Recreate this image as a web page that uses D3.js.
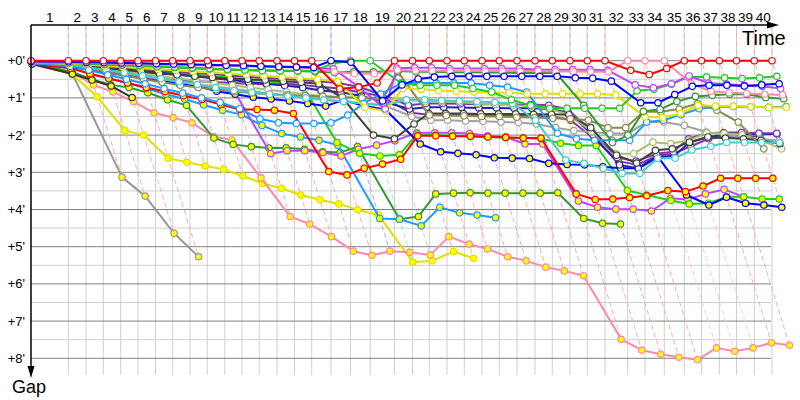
<!DOCTYPE html>
<html><head><meta charset="utf-8">
<script src="https://cdn.jsdelivr.net/npm/d3@7"></script>
<style>body{margin:0;background:#fff}svg{display:block}text{font-family:"Liberation Sans",Arial,sans-serif}</style>
</head><body><svg id="c" width="800" height="400"></svg>
<script>
// leader lap durations (minutes), lap 1..40
const lapDurations = [3.243,1.540,1.504,1.513,1.504,1.522,1.496,1.504,1.504,1.522,1.496,1.495,1.548,1.522,1.496,1.678,1.696,1.713,2.113,1.565,1.461,1.539,1.504,1.539,1.505,1.539,1.565,1.504,1.540,1.504,1.539,1.974,1.504,1.679,1.739,1.495,1.548,1.496,1.548,1.539];
const gapTicks = [0,1,2,3,4,5,6,7,8];
const gapTickLabels = ["+0'","+1'","+2'","+3'","+4'","+5'","+6'","+7'","+8'"];
const N = null;
// gaps (minutes) per lap 0..40
const gRed = [0, 0,0,0,0,0,0,0,0,0,0,0,0,0,0,0, 0.76,0.71,0.6, 0, 0,0,0,0,0,0,0,0,0,0,0,0, 0.26,0.37,0.21, 0,0,0,0,0,0];
const gBlue = [0.02, 0.03,0.04,0.05,0.06,0.07,0.08,0.09,0.1,0.11,0.12,0.13,0.15,0.16,0.17,0.18, 0,0.04,1.08,0.65, 0.49,0.44,0.42,0.42,0.42,0.42,0.42,0.42,0.42,0.46,0.47,0.55, 1.13,1.13,0.91,0.69,0.66,0.66,0.68,0.65,0.62];
const gGreen = [0.03, 0.05,0.07,0.09,0.11,0.13,0.15,0.17,0.19,0.21,0.23,0.25,0.27,0.27,0.27,0.27, 0.08,0,0,0.62, 0.66,0.66,0.66,0.75,0.84,1.05,1.2,1.28,1.28,1.28,1.28,1.28, 0.81,0.77,0.63,0.43,0.44,0.46,0.48,0.46,0.42];
const gPink = [0.04, 0.05,0.06,0.07,0.08,0.09,0.1,0.11,0.12,0.13,0.14,0.15,0.16,0.17,0.18,0.2, 0.3,0.35,0.35,0.25, 0.27,0.27,0.27,0.28,0.28,0.28,0.28,0.28,0.29,0.29,0.3,0.3, 0,0,0, 0.62,0.82,0.86,0.88,0.9,0.92];
const gMagenta = [0.03, 0.04,0.05,0.06,0.07,0.08,0.09,0.1,0.11,0.12,0.13,0.14,0.15,0.16,0.17,0.18, 0.22,0.7,1.3,0.2, 0.19,0.19,0.21,0.21,0.21,0.21,0.21,0.24,0.24,0.24,0.24,0.26, 0.65,0.73,0.62,0.41,0.6,0.63,0.66,0.69,0.75];
const gDarkGreen = [0.04, 0.06,0.08,0.1,0.12,0.14,0.16,0.18,0.2,0.22,0.24,0.25,0.26,0.27,0.28,0.3, 0.32,0.3,0.3,0.28, 0.3,0.3,0.31,0.31,0.32,0.32,0.33,0.33,0.33, 1.2,2.2,2.0, 1.36,1.31,1.1,0.96,0.93,0.9,0.9,0.99,1.02];
const gYellow = [0.05, 0.08,0.11,0.14,0.17,0.2,0.23,0.26,0.29,0.32,0.35,0.38,0.41,0.44,0.47,0.5, 0.56,1.25,1.35,0.74, 0.77,0.8,0.82,0.84,0.86,0.86,0.89,0.89,0.89,0.89,0.89,0.92, 1.51,1.53,1.42,1.2,1.22,1.22,1.24,1.26,1.25];
const gLightBlue = [0.06, 0.15,0.25,0.38,0.5,0.62,0.75,0.87,1.0,1.12,1.29,1.56,1.67,1.69,1.69,1.67, 1.46,1.15,0.9,0.6, 0.6,0.6,0.6,0.6,0.66,0.71,0.84,1.95,2.1,2.14,2.14,2.14, 1.65,1.6,1.45,1.29,1.24,1.23,1.24,1.25,1.23];
const gCyan = [0.06, 0.12,0.18,0.25,0.32,0.4,0.48,0.56,0.64,0.72,0.8,0.85,0.9,0.95,1.0,1.05, 1.1,1.15,1.2,1.05, 1.05,1.07,1.08,1.1,1.12,1.15,1.6, 2.67,2.76,2.89,3.03,3.03, 2.62,2.62,2.4,2.3,2.2,2.2,2.2,2.2,N];
const gOlive = [0.05, 0.1,0.2,0.3,0.4,0.5,0.58,0.66,0.72,0.78,0.83,0.87,0.9,0.92,0.94,0.96, 0.98,1.0,1.05,0.3, 1.46,1.47,1.48,1.5,1.5,1.52,1.53,1.55,1.56,1.6,1.8,1.8, 1.37,1.37,1.3,1.15,1.33,1.65,2.37,N,N];
const gBlack = [0.05, 0.1,0.15,0.2,0.25,0.3,0.35,0.38,0.42,0.45,0.48,0.5,0.52,0.55,0.58,0.62, 1.0,2.0,2.1,1.7, 1.42,1.42,1.42,1.43,1.43,1.43,1.44,1.44,1.45,1.8,2.54,2.75, 2.41,2.37,2.19,2.05,2.08,2.1,2.14,2.23,N];
const gLightOlive = [0.05, 0.1,0.17,0.24,0.3,0.36,0.42,0.48,0.54,0.6,0.66,0.72,0.78,0.84,0.9,0.95, 0.98,1.0,1.02,1.05, 1.1,1.1,1.12,1.15,1.18,1.2,1.23,1.3,1.45,1.9,2.5,2.5, 2.19,2.23,2.14,1.94,1.96,1.99,2.14,2.37,N];
const gGray = [0.05, 0.1,0.18,0.26,0.34,0.42,0.5,0.57,0.64,0.7,0.76,0.82,0.88,0.94,1.0,1.05, 1.1,1.15,1.2,1.5, 1.6,1.6,1.62,1.63,1.65,1.66,1.7,1.8,1.88,1.92,1.96,1.96, 1.65,1.65,1.74,1.92,2.0,2.05,2.1,2.15,N];
const gNavy = [0.04, 0.08,0.12,0.17,0.22,0.27,0.32,0.37,0.42,0.47,0.52,0.57,0.62,0.67,0.72,0.8, 0.85,0.95,1.1,1.3, 1.25,1.25,1.26,1.27,1.27,1.28,1.28,1.3,1.4,2.0,2.8,2.9, 2.6,2.55,2.2,2.05,2.0,1.98,1.97,1.97,N];
const gDarkPurple = [0.03, 0.06,0.1,0.14,0.18,0.22,0.26,0.3,0.33,0.36,0.4,0.43,0.46,0.49,0.52,0.55, 0.6,0.7,0.9,1.2, 1.15,1.15,1.16,1.17,1.17,1.18,1.18,1.2,1.3,1.9,2.6,2.7, 2.5,2.45,2.1,1.95,1.93,1.93,1.95,1.95,N];
const gPurpleY = [0.05, 0.15,0.25,0.33,0.4,0.45,0.5,0.52,0.55,0.57,0.6,0.62,0.63,0.63,0.65,0.7, 0.75,0.85,0.95,1.4, 1.45,1.45,1.46,1.46,1.47,1.47,1.48,1.5,1.6,2.1,2.7,2.8, 2.55,2.5,2.3,2.1,2.05,2.03,2.05,N,N];
const gBlueY = [0.08, 0.17,0.23,0.25,0.42,0.46,0.53,0.63,0.69,0.82,0.9,0.98,1.03,1.08,1.15,1.22, 1.06,1.22,1.31,2.24, 2.45,2.49,2.53,2.61,2.62,2.63,2.76,2.79,2.8,2.85,2.89,2.89, 2.56,3.61,3.88,3.67,3.83,3.88,3.94,N,N];
const gGreenY = [0.06, 0.1,0.14,0.18,0.22,0.26,0.3,0.34,0.38,0.42,0.46,0.5,0.55,0.6,0.65,2.2, 2.49,2.56,2.53,1.97, 2.0,2.02,2.04,2.05,2.07,2.08,2.1,2.22,2.28,2.28,3.49,3.61, 3.76,3.85,3.83,3.66,3.66,3.72,3.72,N,N];
const gRedY = [0.08, 0.2,0.35,0.48,0.6,0.72,0.83,0.94,1.04,1.18,1.31,1.31,1.33,1.42,2.98,3.07, 2.89,2.78,2.65,2.02, 2.02,2.03,2.03,2.05,2.06,2.08,2.08,3.58,3.73,3.72,3.68,3.63, 3.49,3.52,3.37,3.16,3.16,3.16,3.16,N,N];
const gMagentaY = [0.07, 0.15,0.22,0.3,0.38,0.46,0.55,0.63,0.7,0.77,0.83,2.5,2.42,2.42,2.47,2.56, 2.38,2.27,2.15,1.94, 1.94,1.94,1.96,2.02,2.05,2.24,2.24,3.77,3.94,3.99,3.99,4.04, 3.7,3.73,3.58,3.46,3.66,N,N,N,N];
const gLightBlueY = [0.06, 0.2,0.35,0.48,0.6,0.75,0.9,1.03,1.19,1.33,1.45,1.74,1.96,2.05,2.14,2.27, 4.24,4.26,4.44,3.94, 4.09,4.15,4.22,N,N,N,N,N,N,N,N,N, N,N,N,N,N,N,N,N,N];
const gDarkGreenY = [0.07, 0.3,0.5,0.65,0.72,0.86,1.05,1.2,2.08,2.25,2.31,2.35,2.34,2.38,2.45,2.47, 2.31,4.26,4.19,3.58, 3.56,3.55,3.56,3.56,3.56,3.56,3.55,4.24,4.37,4.39,N,N, N,N,N,N,N,N,N,N,N];
const gPinkY = [0.06, 0.3,0.65,0.84,1.1,1.4,1.53,1.67,2.04,2.13,3.15,4.19,4.39,4.73,5.12,5.23, 5.12,5.15,5.22,4.73, 4.93,5.06,5.27,5.38,5.55,5.65,5.78,7.49,7.78,7.89,7.97,8.04, 7.72,7.81,7.72,7.58,7.65,N,N,N,N];
const gYellowY = [0.05, 0.38,0.97,1.88,2.0,2.62,2.73,2.83,2.92,3.1,3.3,3.43,3.61,3.74,3.85,4.01, 4.15,5.42,5.38,5.13,5.31];
const gGrayY = [0.1, 0.35,3.13,3.64,4.64,5.27];
const gBlackY = [0.08, 0.36,0.52,0.68,0.99];

const W = "#ffffff", Y = "#ffff00";
// drawn bottom to top
const cars = [
  {c:"#999999", f:Y, g:gGrayY},
  {c:"#e0e000", f:Y, g:gYellowY},
  {c:"#ff88aa", f:Y, g:gPinkY},
  {c:"#339933", f:Y, g:gDarkGreenY},
  {c:"#333333", f:Y, g:gBlackY},
  {c:"#1e9bff", f:Y, g:gLightBlueY},
  {c:"#bb44ff", f:Y, g:gMagentaY},
  {c:"#22cc22", f:Y, g:gGreenY},
  {c:"#0000ff", f:Y, g:gBlueY},
  {c:"#ff0000", f:Y, g:gRedY},
  {c:"#8030b0", f:Y, g:gPurpleY},
  {c:"#2222aa", f:W, g:gNavy},
  {c:"#7a3aa0", f:W, g:gDarkPurple},
  {c:"#a0a0a0", f:W, g:gGray},
  {c:"#a8c070", f:W, g:gLightOlive},
  {c:"#404040", f:W, g:gBlack},
  {c:"#8a8a50", f:W, g:gOlive},
  {c:"#44cccc", f:W, g:gCyan},
  {c:"#1e9bff", f:W, g:gLightBlue},
  {c:"#e0e000", f:W, g:gYellow},
  {c:"#339933", f:W, g:gDarkGreen},
  {c:"#22cc22", f:W, g:gGreen, lane:"#a8eea8"},
  {c:"#bb44ff", f:W, g:gMagenta},
  {c:"#ff88aa", f:W, g:gPink, lane:"#ffc8d4"},
  {c:"#0000ff", f:W, g:gBlue, lane:"#aaaaff"},
  {c:"#ff0000", f:W, g:gRed, lane:"#ffaaaa"}
];

const lapEnd = [0];
lapDurations.forEach((d,i)=>lapEnd.push(lapEnd[i]+d));
const nLaps = lapDurations.length;

const svg = d3.select("#c");
const x = d3.scaleLinear().domain([0, 60]).range([31, 31 + 690]);
const y = d3.scaleLinear().domain([0, 8]).range([60.7, 358.3]);
const topY = 25, gridBottom = 375, gridRight = x(lapEnd[nLaps]) - 1;

// horizontal grid
const halfTicks = d3.range(0, 8.01, 0.5);
svg.append("g").selectAll("line").data(halfTicks.filter(v=>v%1!==0)).join("line")
  .attr("x1", 31).attr("x2", gridRight).attr("y1", d=>y(d)).attr("y2", d=>y(d))
  .attr("stroke", "#d0d0d0").attr("stroke-width", 1);
svg.append("g").selectAll("line").data(d3.range(1, nLaps+1)).join("line")
  .attr("x1", d=>x(lapEnd[d])).attr("x2", d=>x(lapEnd[d])).attr("y1", topY).attr("y2", gridBottom)
  .attr("stroke", "#d0d0d0").attr("stroke-width", 1);
svg.append("g").selectAll("line").data(gapTicks).join("line")
  .attr("x1", 31).attr("x2", gridRight).attr("y1", d=>y(d)).attr("y2", d=>y(d))
  .attr("stroke", "#808080").attr("stroke-width", 1);

// lap lanes (dashed)
const lanes = [];
for (let n = 1; n <= nLaps; n++) {
  let gmax = 0, leader = null, gmin = Infinity;
  cars.forEach(cr => {
    const v = cr.g[n];
    if (v != null) { if (v > gmax) gmax = v; if (v < gmin) { gmin = v; leader = cr; } }
  });
  lanes.push({n, gmax, col: (leader && leader.lane) || "#ffaaaa"});
}
svg.append("g").selectAll("path").data(lanes).join("path")
  .attr("d", d => `M${x(lapEnd[d.n])},${topY}L${x(lapEnd[d.n])},${y(0)}L${x(lapEnd[d.n]+d.gmax)},${y(d.gmax)}`)
  .attr("fill", "none").attr("stroke", d=>d.col).attr("stroke-width", 1).attr("stroke-dasharray", "5,3");

// series
const line = d3.line().defined(d=>d.g!=null).x(d=>x(lapEnd[d.n]+d.g)).y(d=>y(d.g));
cars.forEach(cr => {
  const pts = cr.g.map((g,n)=>({n,g}));
  const gs = svg.append("g");
  gs.append("path").attr("d", line(pts)).attr("fill","none").attr("stroke", cr.c).attr("stroke-width", 2).attr("stroke-linejoin","round");
  gs.selectAll("circle").data(pts.filter(p=>p.g!=null)).join("circle")
    .attr("cx", p=>x(lapEnd[p.n]+p.g)).attr("cy", p=>y(p.g)).attr("r", 3.2)
    .attr("fill", cr.f).attr("stroke", cr.c).attr("stroke-width", 1.2);
});

// axes
svg.append("line").attr("x1",31).attr("x2",772).attr("y1",topY).attr("y2",topY).attr("stroke","#000").attr("stroke-width",1.5);
svg.append("path").attr("d",`M779,${topY}L767,${topY-3.5}L767,${topY+3.5}Z`).attr("fill","#000");
svg.append("line").attr("x1",31).attr("x2",31).attr("y1",topY).attr("y2",370).attr("stroke","#000").attr("stroke-width",1.5);
svg.append("path").attr("d",`M31,378L27.5,366L34.5,366Z`).attr("fill","#000");

svg.append("g").selectAll("text").data(d3.range(1, nLaps+1)).join("text")
  .attr("x", d=>x((lapEnd[d-1]+lapEnd[d])/2)).attr("y", 22)
  .attr("text-anchor","middle").attr("font-size", 13.5).text(d=>d);
svg.append("g").selectAll("text").data(gapTicks).join("text")
  .attr("x", 25).attr("y", d=>y(d)+4.5).attr("text-anchor","end").attr("font-size", 13).text((d,i)=>gapTickLabels[i]);
svg.append("text").attr("x", 742).attr("y", 45).attr("font-size", 20).text("Time");
svg.append("text").attr("x", 12).attr("y", 393).attr("font-size", 18).text("Gap");
</script></body></html>
